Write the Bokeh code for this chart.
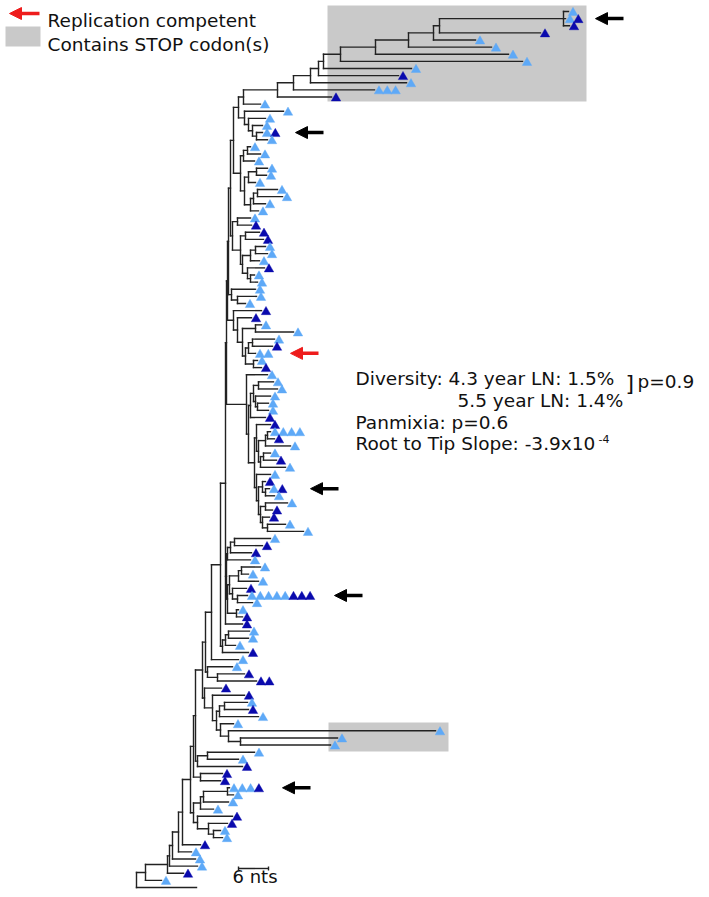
from bokeh.plotting import figure
from bokeh.models import Range1d, Arrow, NormalHead, Label
from bokeh.embed import file_html
from bokeh.resources import INLINE

# ---------------------------------------------------------------- data
# Tree in a Newick-like notation. Leaf label = the identical sequences at that tip
# ("L" = light blue, "D" = dark blue, "-" = no symbol); "@v" = divergence from root (nts).
STOP_CLADE = ("((((((((((((L@86.4,LD@85.8,D@86.6)@85.4,D@80.8)@60.6,L@67.8)@59.4,"
              "L@71.0)@54.4,L@74.4)@47.8,L@77.2)@40.8,L@55.0)@37.4,D@52.4)@36.4,"
              "L@54.0)@34.8,LLL@47.6)@31.4,D@39.0)@28.2,L@24.8)@21.4")
CLADE_B = "(L@29.4,(L@25.8,(L@25.2,(LD@25.2,L@26.2)@24.0)@23.2)@22.4)@21.6"
CLADE_C = "((L@22.8,L@24.8)@22.2,L@23.6)@21.4"
CLADE_D = "(((L@26.2,L@26.0)@24.0,L@23.8)@22.4,(((L@28.2,L@29.2)@24.2,L@25.8)@23.4,L@24.4)@22.8)@21.6"
CLADE_E = ("((L@22.8,D@23.0)@20.2,((D@24.6,D@25.4)@21.8,(((L@25.8,L@26.2)@23.8,L@24.6)@22.8,"
           "(D@25.6,(L@23.6,L@24.2)@22.8)@22.2)@21.2)@20.8)@19.2")
CLADE_F = "(L@23.8,(L@24.0,L@21.8)@20.2)@19.0"
CLADE_G = ("(D@25.0,(D@23.0,((L@25.0,L@31.4)@23.8,(((L@27.6,D@27.2)@23.2,LL@23.8)@22.4,"
           "(L@24.2,D@25.0)@23.4)@21.8)@21.2)@20.2)@19.4")
SUB_X4 = "((L@27.4,L@28.2)@24.4,(L@26.8,(L@26.4,L@26.4)@24.2)@23.8)@23.4"
SUB_Y5 = "(((LLLL@26.8,D@27.6)@26.2,L@30.8)@25.8,((L@26.8,D@28.0)@25.4,L@29.8)@24.8)@24.4"
SUB_C6 = ("((D@25.8,(LD@26.6,L@27.6)@25.8)@25.2,((L@30.2,D@27.2)@25.8,"
          "(D@26.6,(L@29.8,L@33.4)@26.2)@25.2)@24.8)@24.4")
CLADE_H_TEMPLATE = "(L@26.2,(({X4},D@25.8)@22.8,((D@26.8,{Y5})@24.0,(L@26.8,{C6})@24.0)@23.6)@22.4)@22.0"
CLADE_I = ("((((L@26.8,D@25.2)@19.6,D@23.0)@18.8,L@22.8)@18.2,((((L@24.8,L@22.4)@21.0,L@24.4)@20.4,"
           "(D@22.0,(LLLLLDDD@22.2,L@23.2)@20.2)@19.2)@18.6,(L@20.4,D@21.2)@20.0)@18.2)@18.0")
CLADE_J = "(((L@22.6,L@22.4)@18.4,L@19.8)@17.8,D@22.4)@17.2"
CLADE_K = "(L@19.2,(D@21.6,DD@24.0)@16.2)@14.2"
CLADE_L = ("(D@17.0,(D@21.6,(((L@22.2,D@22.4)@17.6,L@24.4)@16.6,"
           "(L@19.4,(L@59.8,(L@40.2,L@38.8)@20.8)@18.4)@16.8)@16.0)@15.2)@13.6")
CLADE_M = "((L@23.6,L@20.4)@14.2,D@21.2)@12.2"
CLADE_N = "(D@17.2,D@16.8)@12.8"
CLADE_O = ("((((LLLD@18.6,L@19.4)@18.2,L@18.4)@13.4,L@15.4)@12.8,"
           "(D@19.2,(D@18.2,(L@16.8,L@17.2)@15.4)@14.4)@12.2)@11.4")
UPPER_TEMPLATE = "(({A},{B})@20.4,({C},{D})@20.8)@19.4"
BACKBONE_TEMPLATE = ("(((((((((((((((((((" "{UP},{E})@18.8,{F})@18.4,{G})@18.2,{H})@18.0,{I},D@21.2)@17.8,"
                     "{J})@16.8,L@20.4)@15.0,{K})@13.8,{L})@13.2,{M})@11.8,{N})@11.4,{O})@10.8,"
                     "D@12.8)@9.2,L@11.0)@8.4,L@11.8)@7.2,L@12.2)@6.6,D@9.4)@6.2,L@5.0)@1.8,-@12.0)@0.0")

TIP_COLORS = {"L": "#5ea9f7", "D": "#0a0aad"}

# arrows: tip row, x of arrow point (nts), colour
ARROW_ROWS = [2, 18, 49, 68, 83, 110]
ARROW_TIP_NTS = [91.8, 31.8, 30.8, 34.8, 39.6, 29.2]
ARROW_COLORS = ["black", "black", "#ee1c1c", "black", "black", "black"]
ARROW_LEN_NTS = 5.6

# shaded "Contains STOP codon(s)" regions: (row top, row bottom), (left nts, right nts)
STOP_BOX_ROWS = [(0.16, 13.64), (100.83, 104.9)]
STOP_BOX_NTS = [(38.2, 90.0), (38.4, 62.4)]

SCALE_NTS = 6
SCALE_START_NTS = 20.4
SCALE_ROW = 121.33

STATS_LINES = ["Diversity: 4.3 year LN: 1.5%", "5.5 year LN: 1.4%", "Panmixia: p=0.6",
               "Root to Tip Slope: -3.9x10"]
LEGEND_ITEMS = ["Replication competent", "Contains STOP codon(s)"]

# ---------------------------------------------------------------- build tree
tree_str = BACKBONE_TEMPLATE.format(
    UP=UPPER_TEMPLATE.format(A=STOP_CLADE, B=CLADE_B, C=CLADE_C, D=CLADE_D),
    E=CLADE_E, F=CLADE_F, G=CLADE_G,
    H=CLADE_H_TEMPLATE.format(X4=SUB_X4, Y5=SUB_Y5, C6=SUB_C6),
    I=CLADE_I, J=CLADE_J, K=CLADE_K, L=CLADE_L, M=CLADE_M, N=CLADE_N, O=CLADE_O)


def parse(s):
    pos = 0

    def node():
        nonlocal pos
        kids, label = [], None
        if s[pos] == "(":
            pos += 1
            kids.append(node())
            while s[pos] == ",":
                pos += 1
                kids.append(node())
            if s[pos] != ")":
                raise ValueError("expected ) at %d" % pos)
            pos += 1
        else:
            j = pos
            while s[pos] != "@":
                pos += 1
            label = s[j:pos]
        if s[pos] != "@":
            raise ValueError("expected @ at %d" % pos)
        pos += 1
        j = pos
        while pos < len(s) and s[pos] not in ",)":
            pos += 1
        return {"kids": kids, "label": label, "x": float(s[j:pos])}

    return node()


root = parse(tree_str)
leaves = []


def layout(n):
    if not n["kids"]:
        leaves.append(n)
        n["y"] = float(len(leaves))
    else:
        for k in n["kids"]:
            layout(k)
        n["y"] = (n["kids"][0]["y"] + n["kids"][-1]["y"]) / 2.0


layout(root)

hx0, hx1, hy, vx, vy0, vy1 = [], [], [], [], [], []


def collect(n, parent_x):
    if parent_x is not None:
        hx0.append(parent_x); hx1.append(n["x"]); hy.append(n["y"])
    if n["kids"]:
        vx.append(n["x"]); vy0.append(n["kids"][0]["y"]); vy1.append(n["kids"][-1]["y"])
        for k in n["kids"]:
            collect(k, n["x"])


collect(root, None)

# ---------------------------------------------------------------- figure
W, H = 709, 897
ROOT_PX, PX_PER_NT = 136.0, 5.0          # layout: where the root sits, pixels per nt
ROW0_PX, ROW_PX = 11.0, 7.122            # layout: first row position, row spacing


def X(px):
    return (px - ROOT_PX) / PX_PER_NT


def R(py):
    return 1 + (py - ROW0_PX) / ROW_PX


p = figure(width=W, height=H, x_range=Range1d(X(0), X(W)), y_range=Range1d(R(H), R(0)),
           output_backend="svg", toolbar_location=None, x_axis_type=None, y_axis_type=None,
           min_border=0)
p.grid.visible = False
p.outline_line_color = None
p.background_fill_color = "white"
p.border_fill_color = "white"

GRAY = "#c9c9c9"
FONT = "DejaVu Sans"
FS = "18.5px"
TXT = "#111111"

# stop-codon boxes
p.quad(left=[b[0] for b in STOP_BOX_NTS], right=[b[1] for b in STOP_BOX_NTS],
       top=[b[0] for b in STOP_BOX_ROWS], bottom=[b[1] for b in STOP_BOX_ROWS],
       fill_color=GRAY, line_color=None)

# tree
LINE = "#222222"
p.segment(x0=hx0, y0=hy, x1=hx1, y1=hy, line_color=LINE, line_width=1.4, line_cap="square")
p.segment(x0=vx, y0=vy0, x1=vx, y1=vy1, line_color=LINE, line_width=1.4, line_cap="square")

# tip symbols
mx, my, mc = [], [], []
for lf in leaves:
    if lf["label"] == "-":
        continue
    for i, ch in enumerate(lf["label"]):
        mx.append(lf["x"] + 0.9 + i * 1.66)
        my.append(lf["y"] + 0.18)
        mc.append(TIP_COLORS[ch])
p.scatter(mx, my, marker="triangle", size=9.5, fill_color=mc, line_color=mc, line_width=0.4)

# arrows
for row, tip, col in zip(ARROW_ROWS, ARROW_TIP_NTS, ARROW_COLORS):
    p.add_layout(Arrow(end=NormalHead(size=12, fill_color=col, line_color=col, line_width=1),
                       x_start=tip + ARROW_LEN_NTS, y_start=row, x_end=tip, y_end=row,
                       line_color=col, line_width=3.5))

# legend
p.add_layout(Arrow(end=NormalHead(size=12, fill_color="#ee1c1c", line_color="#ee1c1c", line_width=1),
                   x_start=X(39), y_start=R(13), x_end=X(9), y_end=R(13),
                   line_color="#ee1c1c", line_width=3.5))
p.quad(left=[X(5)], right=[X(40)], top=[R(26)], bottom=[R(46)], fill_color=GRAY, line_color=None)
for txt, base in zip(LEGEND_ITEMS, [19.5, 44.0]):
    p.add_layout(Label(x=X(47), y=R(base), text=txt, text_font=FONT, text_font_size=FS,
                       text_baseline="alphabetic", text_color=TXT))

# statistics text
for txt, xl, base in zip(STATS_LINES, [355, 457, 355, 355], [378, 400, 422, 443]):
    p.add_layout(Label(x=X(xl), y=R(base), text=txt, text_font=FONT, text_font_size=FS,
                       text_baseline="alphabetic", text_color=TXT))
p.add_layout(Label(x=X(598), y=R(438), text="-4", text_font=FONT, text_font_size="11px",
                   text_baseline="alphabetic", text_color=TXT))
p.add_layout(Label(x=X(625), y=R(383), text="]", text_font=FONT, text_font_size="22px",
                   text_baseline="alphabetic", text_color=TXT))
p.add_layout(Label(x=X(637), y=R(381), text="p=0.9", text_font=FONT, text_font_size=FS,
                   text_baseline="alphabetic", text_color=TXT))

# scale bar
sx0, sx1 = SCALE_START_NTS, SCALE_START_NTS + SCALE_NTS
p.segment(x0=[sx0, sx0, sx1], y0=[SCALE_ROW, SCALE_ROW - 0.28, SCALE_ROW - 0.28],
          x1=[sx1, sx0, sx1], y1=[SCALE_ROW, SCALE_ROW + 0.28, SCALE_ROW + 0.28],
          line_color=LINE, line_width=1.4)
p.add_layout(Label(x=(sx0 + sx1) / 2 + 0.3, y=R(876), text="%d nts" % SCALE_NTS, text_font=FONT,
                   text_font_size="18px", text_align="center", text_baseline="middle",
                   text_color=TXT))

open("out.html", "w").write(file_html(p, INLINE))
